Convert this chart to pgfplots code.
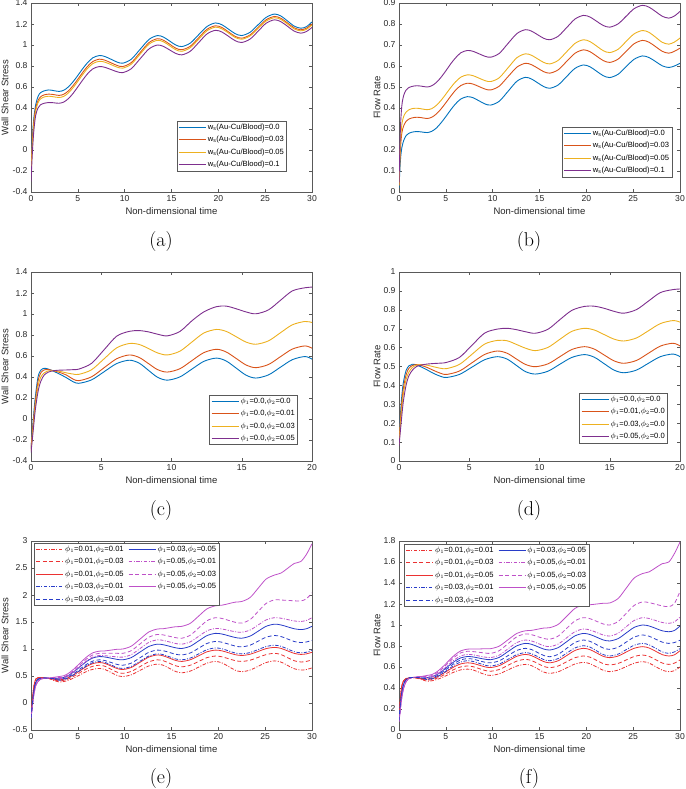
\documentclass[border=0pt]{standalone}
\usepackage{pgfplots}
\pgfplotsset{compat=1.18}
\usepackage{pgfplotstable}
\usepackage{fontspec}
\newfontfamily\hv{Liberation Sans}
\newcommand{\tickf}{\hv\fontsize{8.6}{10}\selectfont}
\newcommand{\labf}{\hv\fontsize{9.5}{11}\selectfont}
\newcommand{\legf}{\hv\fontsize{7.6}{9}\selectfont}
\definecolor{mb}{rgb}{0,0.447,0.741}
\definecolor{mo}{rgb}{0.850,0.325,0.098}
\definecolor{my}{rgb}{0.929,0.694,0.125}
\definecolor{mp}{rgb}{0.494,0.184,0.556}
\definecolor{rr}{RGB}{235,50,50}
\definecolor{bb}{RGB}{40,60,200}
\definecolor{mm}{RGB}{190,80,200}
\tikzset{dd/.style={dash pattern=on 3.5pt off 1.5pt on 1pt off 1.5pt},
         da/.style={dash pattern=on 4pt off 2.5pt}}
\pgfplotsset{
  mat/.style={
    scale only axis, width=281pt, height=189pt,
    axis line style={black!65, line width=0.5pt},
    tick style={black!65, line width=0.4pt},
    major tick length=3pt, tick align=inside,
    every tick label/.append style={font=\tickf, text=black!85},
    /pgf/number format/assume math mode=true,
    label style={font=\labf, text=black!85},
    xlabel={Non-dimensional time},
    xlabel style={at={(axis description cs:0.5,-0.1)}, anchor=center},
    legend style={font=\legf, draw=black!65, line width=0.5pt, fill=white,
      inner xsep=1.5pt, inner ysep=1.2pt, cells={anchor=west},
      nodes={inner sep=1.4pt}, row sep=2.6pt},
    legend cell align=left,
    legend image code/.code={\draw[##1, line width=1pt] (0pt,0pt) -- (27pt,0pt);},
    every axis plot/.append style={no marks, smooth, line width=0.9pt},
  },
  ylA/.style={ylabel style={at={(axis description cs:-0.0925,0.5)}, anchor=center}},
  ylB/.style={ylabel style={at={(axis description cs:-0.078,0.5)}, anchor=center}},
}

\pgfplotstableread{
t b o y p
0 -0.15 -0.18 -0.20 -0.30
0.15 0.12 0.08 0.05 -0.02
0.3 0.30 0.27 0.24 0.18
0.5 0.43 0.40 0.37 0.33
0.75 0.51 0.47 0.45 0.40
1.0 0.545 0.505 0.485 0.43
1.4 0.563 0.525 0.505 0.445
1.9 0.572 0.532 0.512 0.452
2.4 0.566 0.528 0.507 0.45
3.0 0.558 0.52 0.50 0.445
3.5 0.569 0.531 0.511 0.457
4.0 0.602 0.564 0.544 0.490
4.5 0.651 0.614 0.594 0.540
5.0 0.710 0.674 0.654 0.601
5.5 0.772 0.736 0.716 0.664
6.0 0.828 0.793 0.773 0.722
6.6 0.878 0.843 0.823 0.773
7.3 0.90 0.865 0.845 0.795
7.9 0.890 0.855 0.836 0.787
8.55 0.864 0.83 0.813 0.766
9.2 0.837 0.805 0.789 0.745
9.8 0.827 0.795 0.78 0.737
10.7 0.864 0.832 0.817 0.774
11.65 0.959 0.928 0.913 0.869
12.6 1.053 1.023 1.008 0.963
13.5 1.09 1.06 1.045 1.0
14.15 1.075 1.045 1.03 0.986
14.8 1.038 1.008 0.993 0.953
15.45 1.0 0.97 0.955 0.920
16.1 0.985 0.955 0.94 0.906
17.0 1.018 0.988 0.974 0.940
17.9 1.098 1.069 1.055 1.023
18.8 1.177 1.15 1.136 1.106
19.7 1.21 1.183 1.17 1.14
20.4 1.192 1.166 1.153 1.123
21.1 1.15 1.124 1.113 1.082
21.8 1.108 1.082 1.072 1.041
22.5 1.09 1.065 1.055 1.024
23.4 1.122 1.097 1.087 1.057
24.25 1.193 1.169 1.158 1.132
25.1 1.263 1.24 1.228 1.207
26.0 1.295 1.272 1.26 1.24
26.7 1.275 1.253 1.242 1.221
27.4 1.228 1.209 1.198 1.177
28.1 1.180 1.164 1.153 1.132
28.8 1.16 1.145 1.135 1.113
29.4 1.174 1.16 1.149 1.128
30 1.22 1.20 1.19 1.167
}\tA

\pgfplotstableread{
t b o y p
0 0.02 0.03 0.03 0.04
0.15 0.15 0.20 0.23 0.30
0.3 0.21 0.28 0.32 0.41
0.5 0.245 0.315 0.36 0.46
0.75 0.268 0.336 0.38 0.485
1.0 0.278 0.346 0.39 0.496
1.4 0.285 0.353 0.397 0.503
1.9 0.288 0.356 0.399 0.506
2.4 0.286 0.354 0.396 0.504
3.0 0.283 0.35 0.392 0.50
3.5 0.289 0.356 0.397 0.506
4.0 0.305 0.372 0.413 0.522
4.5 0.330 0.396 0.437 0.547
5.0 0.359 0.425 0.466 0.577
5.5 0.390 0.455 0.496 0.609
6.0 0.418 0.483 0.523 0.637
6.6 0.443 0.507 0.547 0.663
7.3 0.454 0.518 0.558 0.674
7.9 0.449 0.514 0.554 0.670
8.55 0.434 0.502 0.542 0.658
9.2 0.419 0.490 0.530 0.646
9.8 0.414 0.486 0.526 0.642
10.7 0.432 0.504 0.544 0.660
11.65 0.480 0.550 0.592 0.708
12.6 0.528 0.595 0.640 0.755
13.5 0.546 0.613 0.658 0.773
14.15 0.538 0.606 0.651 0.766
14.8 0.520 0.590 0.634 0.749
15.45 0.502 0.573 0.617 0.732
16.1 0.494 0.566 0.610 0.725
17.0 0.510 0.582 0.627 0.742
17.9 0.550 0.622 0.668 0.783
18.8 0.589 0.661 0.708 0.824
19.7 0.605 0.677 0.725 0.841
20.4 0.596 0.668 0.716 0.833
21.1 0.575 0.647 0.695 0.813
21.8 0.554 0.626 0.673 0.793
22.5 0.545 0.617 0.664 0.785
23.4 0.561 0.633 0.680 0.801
24.25 0.597 0.670 0.717 0.837
25.1 0.632 0.706 0.753 0.873
26.0 0.648 0.722 0.769 0.889
26.7 0.640 0.713 0.760 0.880
27.4 0.621 0.692 0.737 0.859
28.1 0.601 0.670 0.713 0.837
28.8 0.593 0.661 0.704 0.828
29.4 0.600 0.670 0.714 0.838
30 0.613 0.685 0.733 0.86
}\tB

\pgfplotstableread{
t b o y p
0 -0.28 -0.28 -0.30 -0.32
0.15 -0.02 -0.05 -0.08 -0.12
0.3 0.20 0.16 0.12 0.08
0.5 0.40 0.36 0.31 0.26
0.7 0.465 0.44 0.40 0.36
0.95 0.483 0.468 0.44 0.42
1.25 0.475 0.47 0.458 0.447
1.6 0.455 0.46 0.46 0.46
2.0 0.43 0.445 0.455 0.465
2.5 0.395 0.42 0.44 0.467
3.0 0.355 0.38 0.428 0.47
3.4 0.34 0.365 0.425 0.475
4.3 0.372 0.401 0.468 0.529
5.2 0.45 0.488 0.573 0.659
6.1 0.528 0.574 0.678 0.789
7.0 0.56 0.61 0.719 0.835
7.7 0.532 0.586 0.71 0.842
8.35 0.465 0.529 0.672 0.83
9.0 0.398 0.471 0.63 0.808
9.7 0.37 0.447 0.61 0.792
10.6 0.401 0.479 0.646 0.834
11.45 0.475 0.556 0.733 0.935
12.3 0.549 0.632 0.819 1.02
13.2 0.58 0.664 0.853 1.07
13.9 0.552 0.638 0.834 1.075
14.6 0.485 0.577 0.784 1.05
15.3 0.418 0.515 0.733 1.02
16.0 0.39 0.489 0.712 1.002
16.9 0.42 0.519 0.744 1.039
17.75 0.493 0.593 0.821 1.13
18.6 0.565 0.666 0.897 1.22
19.5 0.595 0.696 0.929 1.25
20 0.57 0.674 0.919 1.256
}\tC

\pgfplotstableread{
t b o y p
0 0.10 0.10 0.09 0.08
0.15 0.30 0.27 0.24 0.20
0.3 0.41 0.38 0.35 0.31
0.5 0.478 0.455 0.43 0.40
0.7 0.503 0.49 0.47 0.45
0.95 0.512 0.505 0.495 0.48
1.25 0.508 0.51 0.507 0.50
1.6 0.497 0.505 0.51 0.508
2.0 0.482 0.495 0.507 0.513
2.5 0.462 0.478 0.498 0.516
3.0 0.447 0.463 0.49 0.518
3.4 0.442 0.458 0.489 0.522
4.3 0.458 0.476 0.511 0.548
5.2 0.497 0.52 0.565 0.613
6.1 0.536 0.564 0.619 0.677
7.0 0.552 0.582 0.638 0.698
7.7 0.539 0.57 0.636 0.702
8.35 0.506 0.54 0.617 0.695
9.0 0.473 0.511 0.597 0.684
9.7 0.46 0.499 0.584 0.676
10.6 0.475 0.514 0.601 0.697
11.45 0.512 0.552 0.644 0.748
12.3 0.548 0.59 0.686 0.797
13.2 0.563 0.605 0.702 0.818
13.9 0.549 0.592 0.693 0.819
14.6 0.515 0.561 0.669 0.808
15.3 0.481 0.53 0.645 0.792
16.0 0.467 0.517 0.635 0.782
16.9 0.481 0.532 0.651 0.801
17.75 0.517 0.57 0.689 0.846
18.6 0.552 0.608 0.727 0.891
19.5 0.566 0.623 0.743 0.907
20 0.552 0.609 0.735 0.91
}\tD

\pgfplotstableread{
t e1 e2 e3 e4 e5 e6 e7 e8 e9
0 -0.28 -0.28 -0.28 -0.28 -0.28 -0.28 -0.28 -0.28 -0.28
0.15 0.05 0.05 0.05 0.0 0.0 0.0 -0.05 -0.05 -0.05
0.3 0.30 0.30 0.30 0.22 0.22 0.22 0.15 0.15 0.15
0.5 0.44 0.44 0.44 0.38 0.38 0.38 0.32 0.32 0.32
0.75 0.47 0.47 0.47 0.44 0.44 0.44 0.40 0.40 0.40
1.0 0.47 0.47 0.47 0.46 0.46 0.46 0.44 0.44 0.44
1.4 0.462 0.462 0.462 0.462 0.462 0.462 0.455 0.455 0.455
1.9 0.455 0.455 0.455 0.46 0.46 0.46 0.462 0.462 0.462
2.4 0.42 0.43 0.44 0.445 0.45 0.455 0.465 0.47 0.475
3.0 0.39 0.41 0.43 0.42 0.44 0.46 0.45 0.47 0.49
3.5 0.398 0.420 0.441 0.432 0.452 0.473 0.464 0.485 0.506
4.0 0.422 0.447 0.471 0.465 0.486 0.511 0.505 0.528 0.550
4.5 0.458 0.489 0.517 0.515 0.538 0.569 0.567 0.592 0.618
5.0 0.501 0.539 0.572 0.576 0.600 0.638 0.641 0.670 0.699
5.5 0.547 0.592 0.630 0.639 0.665 0.710 0.719 0.752 0.784
6.0 0.588 0.639 0.683 0.697 0.724 0.776 0.790 0.826 0.861
6.6 0.624 0.681 0.730 0.748 0.777 0.834 0.852 0.891 0.930
7.3 0.64 0.70 0.75 0.77 0.80 0.86 0.88 0.92 0.96
7.9 0.62 0.68 0.732 0.752 0.786 0.852 0.876 0.922 0.965
8.55 0.565 0.625 0.685 0.705 0.75 0.83 0.865 0.921 0.98
9.2 0.51 0.57 0.638 0.658 0.714 0.808 0.854 0.92 0.995
9.8 0.49 0.55 0.62 0.64 0.70 0.80 0.85 0.92 1.0
10.7 0.522 0.585 0.658 0.678 0.739 0.841 0.895 0.969 1.052
11.65 0.605 0.675 0.755 0.775 0.84 0.945 1.01 1.095 1.185
12.6 0.688 0.765 0.852 0.872 0.941 1.049 1.125 1.221 1.318
13.5 0.72 0.80 0.89 0.91 0.98 1.09 1.17 1.27 1.37
14.15 0.697 0.781 0.872 0.894 0.967 1.078 1.158 1.26 1.377
14.8 0.64 0.735 0.83 0.855 0.935 1.05 1.13 1.235 1.395
15.45 0.583 0.689 0.788 0.816 0.903 1.022 1.102 1.21 1.413
16.1 0.56 0.67 0.77 0.80 0.89 1.01 1.09 1.20 1.42
17.0 0.591 0.699 0.801 0.832 0.927 1.051 1.132 1.255 1.475
17.9 0.665 0.77 0.875 0.91 1.015 1.15 1.235 1.39 1.61
18.8 0.739 0.841 0.949 0.988 1.104 1.249 1.338 1.525 1.745
19.7 0.77 0.87 0.98 1.02 1.14 1.29 1.38 1.58 1.80
20.4 0.742 0.855 0.965 1.004 1.125 1.277 1.37 1.565 1.812
21.1 0.675 0.82 0.93 0.965 1.09 1.245 1.345 1.53 1.84
21.8 0.608 0.785 0.895 0.926 1.055 1.213 1.32 1.495 1.868
22.5 0.58 0.77 0.88 0.91 1.04 1.20 1.31 1.48 1.88
23.4 0.611 0.793 0.903 0.935 1.072 1.24 1.352 1.546 1.955
24.25 0.68 0.845 0.955 0.99 1.145 1.33 1.445 1.695 2.125
25.1 0.749 0.897 1.007 1.045 1.218 1.42 1.538 1.844 2.295
26.0 0.78 0.92 1.03 1.07 1.25 1.46 1.58 1.91 2.37
26.7 0.757 0.897 1.011 1.05 1.231 1.445 1.57 1.907 2.407
27.4 0.695 0.84 0.965 1.0 1.185 1.41 1.545 1.90 2.495
28.1 0.635 0.783 0.919 0.95 1.139 1.375 1.52 1.893 2.584
28.8 0.61 0.76 0.90 0.93 1.12 1.36 1.51 1.89 2.62
29.4 0.62 0.77 0.91 0.94 1.13 1.375 1.53 1.93 2.75
30 0.65 0.80 0.94 0.98 1.16 1.42 1.58 2.04 2.95
}\tE

\pgfplotstableread{
t f1 f2 f3 f4 f5 f6 f7 f8 f9
0 0.10 0.10 0.10 0.09 0.09 0.09 0.08 0.08 0.08
0.15 0.30 0.30 0.30 0.25 0.25 0.25 0.20 0.20 0.20
0.3 0.42 0.42 0.42 0.36 0.36 0.36 0.31 0.31 0.31
0.5 0.47 0.47 0.47 0.44 0.44 0.44 0.40 0.40 0.40
0.75 0.49 0.49 0.49 0.48 0.48 0.48 0.46 0.46 0.46
1.0 0.495 0.495 0.495 0.495 0.495 0.495 0.485 0.485 0.485
1.4 0.50 0.50 0.50 0.50 0.50 0.50 0.50 0.50 0.50
1.9 0.495 0.495 0.495 0.50 0.50 0.50 0.505 0.505 0.505
2.4 0.48 0.485 0.49 0.495 0.495 0.495 0.51 0.51 0.51
3.0 0.465 0.475 0.485 0.48 0.49 0.50 0.50 0.51 0.52
3.5 0.469 0.479 0.490 0.486 0.496 0.507 0.507 0.518 0.528
4.0 0.480 0.492 0.505 0.503 0.514 0.526 0.528 0.541 0.552
4.5 0.496 0.512 0.527 0.529 0.542 0.554 0.560 0.575 0.588
5.0 0.516 0.535 0.554 0.560 0.575 0.589 0.598 0.617 0.631
5.5 0.537 0.560 0.582 0.593 0.609 0.625 0.638 0.660 0.677
6.0 0.556 0.582 0.607 0.622 0.640 0.658 0.674 0.700 0.718
6.6 0.573 0.601 0.630 0.648 0.668 0.687 0.706 0.735 0.754
7.3 0.58 0.61 0.64 0.66 0.68 0.70 0.72 0.75 0.77
7.9 0.572 0.603 0.634 0.653 0.675 0.696 0.716 0.747 0.771
8.55 0.55 0.585 0.618 0.635 0.66 0.685 0.705 0.74 0.772
9.2 0.528 0.567 0.601 0.617 0.645 0.674 0.694 0.733 0.774
9.8 0.52 0.56 0.595 0.61 0.64 0.67 0.69 0.73 0.775
10.7 0.535 0.576 0.613 0.628 0.659 0.692 0.713 0.756 0.799
11.65 0.573 0.617 0.658 0.674 0.709 0.748 0.774 0.823 0.86
12.6 0.610 0.657 0.703 0.719 0.759 0.803 0.834 0.889 0.921
13.5 0.625 0.673 0.72 0.737 0.778 0.825 0.857 0.915 0.945
14.15 0.613 0.661 0.708 0.726 0.766 0.816 0.848 0.908 0.949
14.8 0.583 0.634 0.68 0.699 0.738 0.794 0.826 0.89 0.96
15.45 0.552 0.606 0.652 0.671 0.71 0.771 0.803 0.872 0.971
16.1 0.54 0.594 0.64 0.66 0.698 0.762 0.794 0.865 0.975
17.0 0.555 0.610 0.66 0.681 0.721 0.785 0.819 0.895 1.006
17.9 0.592 0.65 0.709 0.732 0.778 0.841 0.878 0.968 1.083
18.8 0.629 0.689 0.758 0.782 0.834 0.897 0.937 1.04 1.159
19.7 0.644 0.705 0.778 0.803 0.857 0.92 0.962 1.07 1.19
20.4 0.631 0.693 0.765 0.789 0.844 0.909 0.952 1.06 1.193
21.1 0.60 0.663 0.734 0.754 0.813 0.884 0.929 1.035 1.20
21.8 0.569 0.632 0.702 0.719 0.781 0.858 0.905 1.01 1.207
22.5 0.556 0.62 0.689 0.705 0.768 0.848 0.895 1.0 1.21
23.4 0.571 0.634 0.705 0.723 0.789 0.871 0.922 1.034 1.253
24.25 0.604 0.667 0.742 0.765 0.837 0.924 0.983 1.11 1.35
25.1 0.636 0.70 0.778 0.807 0.884 0.977 1.043 1.186 1.447
26.0 0.651 0.714 0.794 0.825 0.905 1.0 1.07 1.22 1.49
26.7 0.637 0.701 0.781 0.811 0.893 0.991 1.062 1.213 1.506
27.4 0.604 0.67 0.75 0.778 0.865 0.968 1.043 1.198 1.545
28.1 0.57 0.638 0.718 0.744 0.837 0.945 1.024 1.182 1.584
28.8 0.556 0.625 0.705 0.73 0.825 0.936 1.016 1.175 1.60
29.4 0.565 0.637 0.716 0.744 0.833 0.948 1.03 1.205 1.68
30 0.60 0.667 0.755 0.775 0.855 0.99 1.075 1.32 1.79
}\tF

\begin{document}
\begin{tikzpicture}
\useasboundingbox (0pt,0pt) rectangle (685pt,-789pt);

% (a)
\begin{axis}[mat, ylA, at={(31pt,-192pt)}, anchor=south west,
  xmin=0, xmax=30, ymin=-0.4, ymax=1.4,
  xtick={0,5,10,15,20,25,30}, ytick={-0.4,-0.2,0,0.2,0.4,0.6,0.8,1,1.2,1.4},
  ylabel={Wall Shear Stress},
  legend style={at={(0.911,0.111)}, anchor=south east}]
\addplot[draw=mb] table[x=t,y=b]{\tA}; \addlegendentry{w\textsubscript{s}(Au-Cu/Blood)=0.0}
\addplot[draw=mo] table[x=t,y=o]{\tA}; \addlegendentry{w\textsubscript{s}(Au-Cu/Blood)=0.03}
\addplot[draw=my] table[x=t,y=y]{\tA}; \addlegendentry{w\textsubscript{s}(Au-Cu/Blood)=0.05}
\addplot[draw=mp] table[x=t,y=p]{\tA}; \addlegendentry{w\textsubscript{s}(Au-Cu/Blood)=0.1}
\end{axis}

% (b)
\begin{axis}[mat, ylB, at={(399pt,-192pt)}, anchor=south west,
  xmin=0, xmax=30, ymin=0, ymax=0.9,
  xtick={0,5,10,15,20,25,30}, ytick={0,0.1,0.2,0.3,0.4,0.5,0.6,0.7,0.8,0.9},
  ylabel={Flow Rate},
  legend style={at={(0.972,0.079)}, anchor=south east}]
\addplot[draw=mb] table[x=t,y=b]{\tB}; \addlegendentry{w\textsubscript{s}(Au-Cu/Blood)=0.0}
\addplot[draw=mo] table[x=t,y=o]{\tB}; \addlegendentry{w\textsubscript{s}(Au-Cu/Blood)=0.03}
\addplot[draw=my] table[x=t,y=y]{\tB}; \addlegendentry{w\textsubscript{s}(Au-Cu/Blood)=0.05}
\addplot[draw=mp] table[x=t,y=p]{\tB}; \addlegendentry{w\textsubscript{s}(Au-Cu/Blood)=0.1}
\end{axis}

% (c)
\begin{axis}[mat, ylA, at={(31pt,-461pt)}, anchor=south west,
  xmin=0, xmax=20, ymin=-0.4, ymax=1.4,
  xtick={0,5,10,15,20}, ytick={-0.4,-0.2,0,0.2,0.4,0.6,0.8,1,1.2,1.4},
  ylabel={Wall Shear Stress},
  legend style={at={(0.95,0.085)}, anchor=south east}]
\addplot[draw=mb] table[x=t,y=b]{\tC}; \addlegendentry{$\phi_1$=0.0,$\phi_2$=0.0}
\addplot[draw=mo] table[x=t,y=o]{\tC}; \addlegendentry{$\phi_1$=0.0,$\phi_2$=0.01}
\addplot[draw=my] table[x=t,y=y]{\tC}; \addlegendentry{$\phi_1$=0.0,$\phi_2$=0.03}
\addplot[draw=mp] table[x=t,y=p]{\tC}; \addlegendentry{$\phi_1$=0.0,$\phi_2$=0.05}
\end{axis}

% (d)
\begin{axis}[mat, ylB, at={(399pt,-461pt)}, anchor=south west,
  xmin=0, xmax=20, ymin=0, ymax=1,
  xtick={0,5,10,15,20}, ytick={0,0.1,0.2,0.3,0.4,0.5,0.6,0.7,0.8,0.9,1},
  ylabel={Flow Rate},
  legend style={at={(0.957,0.095)}, anchor=south east}]
\addplot[draw=mb] table[x=t,y=b]{\tD}; \addlegendentry{$\phi_1$=0.0,$\phi_2$=0.0}
\addplot[draw=mo] table[x=t,y=o]{\tD}; \addlegendentry{$\phi_1$=0.01,$\phi_2$=0.0}
\addplot[draw=my] table[x=t,y=y]{\tD}; \addlegendentry{$\phi_1$=0.03,$\phi_2$=0.0}
\addplot[draw=mp] table[x=t,y=p]{\tD}; \addlegendentry{$\phi_1$=0.05,$\phi_2$=0.0}
\end{axis}

% (e)
\begin{axis}[mat, ylA, at={(31pt,-730pt)}, anchor=south west,
  xmin=0, xmax=30, ymin=-0.5, ymax=3,
  xtick={0,5,10,15,20,25,30}, ytick={-0.5,0,0.5,1,1.5,2,2.5,3},
  ylabel={Wall Shear Stress},
  every axis plot/.append style={line width=0.8pt},
  legend columns=2,
  legend style={at={(0.011,0.989)}, anchor=north west, /tikz/every even column/.append style={column sep=3pt}}]
\addplot[draw=rr,dd] table[x=t,y=e1]{\tE}; \addlegendentry{$\phi_1$=0.01,$\phi_2$=0.01}
\addplot[draw=bb] table[x=t,y=e6]{\tE}; \addlegendentry{$\phi_1$=0.03,$\phi_2$=0.05}
\addplot[draw=rr,da] table[x=t,y=e2]{\tE}; \addlegendentry{$\phi_1$=0.01,$\phi_2$=0.03}
\addplot[draw=mm,dd] table[x=t,y=e7]{\tE}; \addlegendentry{$\phi_1$=0.05,$\phi_2$=0.01}
\addplot[draw=rr] table[x=t,y=e3]{\tE}; \addlegendentry{$\phi_1$=0.01,$\phi_2$=0.05}
\addplot[draw=mm,da] table[x=t,y=e8]{\tE}; \addlegendentry{$\phi_1$=0.05,$\phi_2$=0.03}
\addplot[draw=bb,dd] table[x=t,y=e4]{\tE}; \addlegendentry{$\phi_1$=0.03,$\phi_2$=0.01}
\addplot[draw=mm] table[x=t,y=e9]{\tE}; \addlegendentry{$\phi_1$=0.05,$\phi_2$=0.05}
\addplot[draw=bb,da] table[x=t,y=e5]{\tE}; \addlegendentry{$\phi_1$=0.03,$\phi_2$=0.03}
\end{axis}

% (f)
\begin{axis}[mat, ylB, at={(399pt,-730pt)}, anchor=south west,
  xmin=0, xmax=30, ymin=0, ymax=1.8,
  xtick={0,5,10,15,20,25,30}, ytick={0,0.2,0.4,0.6,0.8,1,1.2,1.4,1.6,1.8},
  ylabel={Flow Rate},
  every axis plot/.append style={line width=0.8pt},
  legend columns=2,
  legend style={at={(0.018,0.984)}, anchor=north west, /tikz/every even column/.append style={column sep=3pt}}]
\addplot[draw=rr,dd] table[x=t,y=f1]{\tF}; \addlegendentry{$\phi_1$=0.01,$\phi_2$=0.01}
\addplot[draw=bb] table[x=t,y=f6]{\tF}; \addlegendentry{$\phi_1$=0.03,$\phi_2$=0.05}
\addplot[draw=rr,da] table[x=t,y=f2]{\tF}; \addlegendentry{$\phi_1$=0.01,$\phi_2$=0.03}
\addplot[draw=mm,dd] table[x=t,y=f7]{\tF}; \addlegendentry{$\phi_1$=0.05,$\phi_2$=0.01}
\addplot[draw=rr] table[x=t,y=f3]{\tF}; \addlegendentry{$\phi_1$=0.01,$\phi_2$=0.05}
\addplot[draw=mm,da] table[x=t,y=f8]{\tF}; \addlegendentry{$\phi_1$=0.05,$\phi_2$=0.03}
\addplot[draw=bb,dd] table[x=t,y=f4]{\tF}; \addlegendentry{$\phi_1$=0.03,$\phi_2$=0.01}
\addplot[draw=mm] table[x=t,y=f9]{\tF}; \addlegendentry{$\phi_1$=0.05,$\phi_2$=0.05}
\addplot[draw=bb,da] table[x=t,y=f5]{\tF}; \addlegendentry{$\phi_1$=0.03,$\phi_2$=0.03}
\end{axis}

\node[font=\fontsize{20}{24}\selectfont, anchor=base] at (161pt,-246pt) {(a)};
\node[font=\fontsize{20}{24}\selectfont, anchor=base] at (529pt,-246pt) {(b)};
\node[font=\fontsize{20}{24}\selectfont, anchor=base] at (161pt,-515pt) {(c)};
\node[font=\fontsize{20}{24}\selectfont, anchor=base] at (529pt,-515pt) {(d)};
\node[font=\fontsize{20}{24}\selectfont, anchor=base] at (161pt,-783pt) {(e)};
\node[font=\fontsize{20}{24}\selectfont, anchor=base] at (529pt,-783pt) {(f)};
\end{tikzpicture}
\end{document}
